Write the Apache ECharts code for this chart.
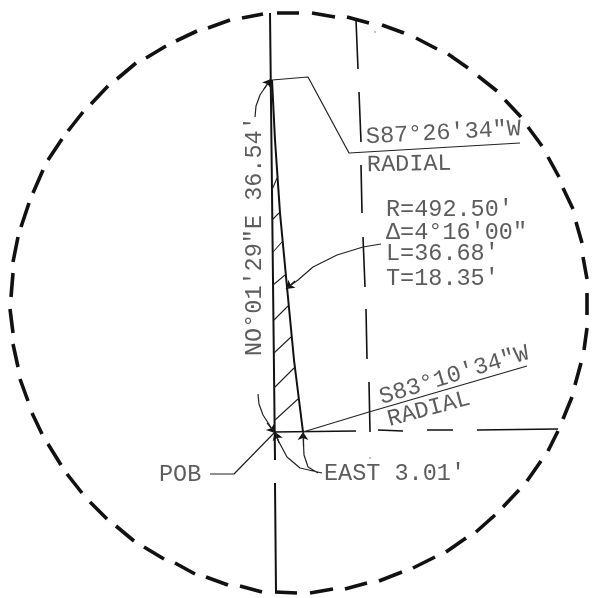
<!DOCTYPE html>
<html><head><meta charset="utf-8">
<style>html,body{margin:0;padding:0;background:#fff}#c{width:592px;height:598px}</style>
<script src="https://cdn.jsdelivr.net/npm/echarts@6/dist/echarts.min.js"></script>
</head><body><div id="c"></div>
<script>
const circleDashes = [
[263,14,242,18],[230,20,208,28],[197,31,176,41],[166,46,146,58],[136,63,117,79],[108,86,91,104],
[83,112,68,131],[62,139,48,160],[43,170,33,193],[29,203,21,227],[18,237,13,262],[13,273,11,297],
[10,309,13,333],[13,344,18,367],[20,379,28,401],[32,413,42,434],[48,444,61,465],[67,474,82,493],
[90,502,107,519],[116,526,134,541],[144,547,164,559],[175,563,195,574],[206,577,228,585],[240,586,262,592],
[275,592,297,593],[310,593,333,589],[345,589,367,583],[379,581,402,572],[413,568,435,557],[446,552,466,538],
[476,532,495,515],[503,507,519,490],[527,481,541,461],[548,451,558,431],[563,419,572,397],[575,385,581,363],
[584,350,587,328],[587,315,587,293],[587,279,583,257],[582,243,576,222],[573,209,563,188],[559,177,548,157],
[542,146,528,127],[521,117,505,100],[497,91,478,76],[468,68,448,54],[437,49,416,38],[404,33,382,25],
[369,23,347,17],[335,17,312,13],[299,13,277,13]
];
const mainLine = [[[270,13],[275,460]],[[275,483],[276,592]]];
const centerDashes = [
[[356,20],[358,69]],[[359,92],[361,142]],[[361,165],[362,213]],[[363,237],[365,287]],[[366,309],[367,359]],[[369,382],[370,432]]
];
const eastDashes = [
[[274,432],[356,431]],[[378,430],[403,431]],[[427,430],[453,430]],[[477,430],[558,429]]
];
const chordCurve = [[272,80],[275,140],[280,213],[287,287],[294,360],[303,432]];
const hatchLines = [
[[272,190],[277,178]],[[272,220],[279,213]],[[273,252],[282,242]],[[273,285],[285,275]],
[[274,320],[288,306]],[[274,353],[291,337]],[[274,388],[294,368]],[[275,420],[298,399]]
];
const leaders = [
[[272,80],[308,77],[349,153],[520,143]],
[[303,432],[369,412],[527,366]],
[[210,474],[234,474],[274,433]],
[[255,117],[256,106],[260,95],[270,80]],
[[381,244],[363,247],[337,255],[313,267],[298,280],[287,288]],
[[258,394],[259,404],[263,415],[274,432]],
[[322,473],[300,468],[287,457],[279,442],[275,433]],
[[318,473],[308,467],[304,455],[303,433]]
];
const arrowHeads = [
[[264,89],[271,79]],[[295,281],[286,289]],[[267,423],[275,433]],[[279,443],[275,432]],[[303,446],[303,432]]
];
const specks = [[375,32],[370,458]];
const labelTexts = [
{t:'S87°26\'34"W',x:366,y:137,r:3},
{t:'RADIAL',x:367,y:165,r:1},
{t:"R=492.50'",x:386,y:210,r:0},
{t:'Δ=4°16\'00"',x:386,y:233,r:0},
{t:"L=36.68'",x:386,y:254,r:0},
{t:"T=18.35'",x:386,y:279,r:0},
{t:'NO°01\'29"E 36.54\'',x:255,y:356,r:90},
{t:'S83°10\'34"W',x:380,y:398,r:17},
{t:'RADIAL',x:388,y:420,r:15},
{t:"EAST 3.01'",x:324,y:474,r:0},
{t:'POB',x:159,y:475,r:0}
];

const pathSeries = (paths, width, color) => {
  const data = [];
  paths.forEach((p, i) => { if (i) data.push([null, null]); p.forEach(q => data.push(q)); });
  return {type:'line', data, symbol:'none', connectNulls:false, silent:true, animation:false,
    lineStyle:{width, color, cap:'butt', join:'round'}};
};
const chart = echarts.init(document.getElementById('c'), null, {renderer:'canvas'});
chart.setOption({
  backgroundColor:'#fff', animation:false,
  grid:{left:0,right:0,top:0,bottom:0},
  xAxis:{type:'value',min:0,max:592,show:false},
  yAxis:{type:'value',min:0,max:598,inverse:true,show:false},
  series:[
    pathSeries(circleDashes.map(d=>[[d[0],d[1]],[d[2],d[3]]]),3.6,'#111'),
    pathSeries(mainLine,2,'#111'),
    pathSeries(centerDashes,1.6,'#111'),
    pathSeries(eastDashes,1.6,'#111'),
    pathSeries([chordCurve],2,'#111'),
    pathSeries(hatchLines,1.1,'#222'),
    pathSeries(leaders,1.2,'#222'),
    {type:'lines',coordinateSystem:'cartesian2d',silent:true,animation:false,
      symbol:['none','arrow'],symbolSize:[0,8],
      lineStyle:{color:'#111',width:1.2,opacity:1,curveness:0},
      data:arrowHeads.map(a=>({coords:a}))},
    {type:'scatter',symbolSize:1.6,itemStyle:{color:'#555'},silent:true,animation:false,data:specks},
    {type:'scatter',symbolSize:0,silent:true,animation:false,
      data:labelTexts.map(l=>({value:[l.x,l.y],
        label:{show:true,formatter:l.t,position:'right',distance:0,rotate:l.r,
          fontFamily:'Liberation Mono',fontSize:23.5,color:'#333',align:'left',verticalAlign:'middle'}}))}
  ]
});
</script></body></html>
